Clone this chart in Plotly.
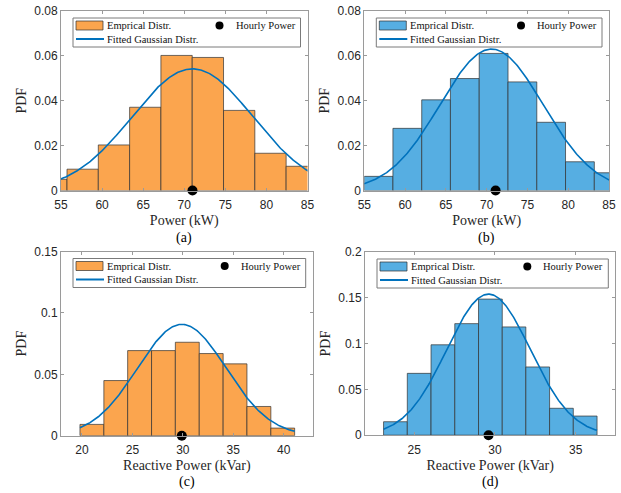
import numpy as np
import plotly.graph_objects as go

W, H = 621, 493

# ---------------- data ----------------
# (a) active power, orange
edges_a = [51.92, 55.73, 59.54, 63.35, 67.16, 70.97, 74.78, 78.59, 82.40, 86.21]
pdf_a = [0.0050, 0.0095, 0.0203, 0.0371, 0.0602, 0.0593, 0.0357, 0.0166, 0.0108]
mu_a, sigma_a = 71.0, 7.36
hourly_a = 71.0

# (b) active power, blue
edges_b = [54.98, 58.51, 62.04, 65.56, 69.09, 72.62, 76.15, 79.67, 83.20, 86.73]
pdf_b = [0.0063, 0.0277, 0.0404, 0.0499, 0.0611, 0.0484, 0.0304, 0.0128, 0.0079]
mu_b, sigma_b = 70.6, 6.33
hourly_b = 71.1

# (c) reactive power, orange
edges_c = [19.80, 22.17, 24.53, 26.90, 29.26, 31.63, 34.00, 36.36, 38.73, 41.09]
pdf_c = [0.0092, 0.0449, 0.0693, 0.0693, 0.0761, 0.0669, 0.0585, 0.0238, 0.0062]
mu_c, sigma_c = 29.9, 4.40
hourly_c = 29.9

# (d) reactive power, blue
edges_d = [23.10, 24.57, 26.04, 27.51, 28.98, 30.45, 31.91, 33.38, 34.85, 36.32]
pdf_d = [0.0147, 0.0675, 0.0987, 0.1218, 0.1486, 0.1182, 0.0745, 0.0294, 0.0209]
mu_d, sigma_d = 29.6, 2.59
hourly_d = 29.6

xticks_ab = [55, 60, 65, 70, 75, 80, 85]
yticks_ab = [0, 0.02, 0.04, 0.06, 0.08]
ylabels_ab = ["0", "0.02", "0.04", "0.06", "0.08"]
xticks_c = [20, 25, 30, 35, 40]
yticks_c = [0, 0.05, 0.1, 0.15]
ylabels_c = ["0", "0.05", "0.1", "0.15"]
xticks_d = [25, 30, 35]
yticks_d = [0, 0.05, 0.1, 0.15, 0.2]
ylabels_d = ["0", "0.05", "0.1", "0.15", "0.2"]

legend_labels = ["Emprical Distr.", "Hourly Power", "Fitted Gaussian Distr."]
panel_tags = ["(a)", "(b)", "(c)", "(d)"]

# ---------------- styling ----------------
ORANGE = "#FBA54E"
BLUE = "#56AEE2"
CURVE = "#0072BD"
AXC = "#9a9a9a"
TXT = "#262626"
SANS = "Liberation Sans, Arial, sans-serif"
SERIF = "Liberation Serif, Times New Roman, serif"

# panel boxes in pixels: left, top, right, bottom
boxes = [
    (61.0, 11.0, 307.5, 190.5),
    (364.3, 11.0, 609.0, 190.5),
    (61.0, 251.5, 312.7, 435.7),
    (365.0, 252.0, 615.3, 435.2),
]

panels = [
    dict(edges=edges_a, pdf=pdf_a, mu=mu_a, sig=sigma_a, hp=hourly_a, color=ORANGE,
         xr=[55, 85], yr=[0, 0.08], xt=xticks_ab, yt=yticks_ab, yl=ylabels_ab,
         xtitle="Power (kW)"),
    dict(edges=edges_b, pdf=pdf_b, mu=mu_b, sig=sigma_b, hp=hourly_b, color=BLUE,
         xr=[55, 85], yr=[0, 0.08], xt=xticks_ab, yt=yticks_ab, yl=ylabels_ab,
         xtitle="Power (kW)"),
    dict(edges=edges_c, pdf=pdf_c, mu=mu_c, sig=sigma_c, hp=hourly_c, color=ORANGE,
         xr=[17.92, 42.88], yr=[0, 0.15], xt=xticks_c, yt=yticks_c, yl=ylabels_c,
         xtitle="Reactive Power (kVar)"),
    dict(edges=edges_d, pdf=pdf_d, mu=mu_d, sig=sigma_d, hp=hourly_d, color=BLUE,
         xr=[21.95, 37.45], yr=[0, 0.2], xt=xticks_d, yt=yticks_d, yl=ylabels_d,
         xtitle="Reactive Power (kVar)"),
]


def px(x):
    return x / W


def py(y):
    return 1 - y / H


fig = go.Figure()
shapes = []
annotations = []
layout_axes = {}

for i, (p, box) in enumerate(zip(panels, boxes)):
    n = i + 1
    xs = "x" if n == 1 else f"x{n}"
    ys = "y" if n == 1 else f"y{n}"
    L, T, R, B = box
    edges = np.array(p["edges"])
    centers = (edges[:-1] + edges[1:]) / 2
    widths = np.diff(edges)

    fig.add_trace(go.Bar(
        x=centers, y=p["pdf"], width=widths, xaxis=xs, yaxis=ys,
        marker=dict(color=p["color"], line=dict(color="rgba(50,50,50,0.7)", width=1)),
        name=legend_labels[0], showlegend=False, hoverinfo="x+y"))

    xc = np.linspace(edges[0], edges[-1], 300)
    yc = np.exp(-0.5 * ((xc - p["mu"]) / p["sig"]) ** 2) / (p["sig"] * np.sqrt(2 * np.pi))
    fig.add_trace(go.Scatter(
        x=xc, y=yc, mode="lines", xaxis=xs, yaxis=ys,
        line=dict(color=CURVE, width=1.6), name=legend_labels[2], showlegend=False))

    fig.add_trace(go.Scatter(
        x=[p["hp"]], y=[0], mode="markers", xaxis=xs, yaxis=ys, cliponaxis=False,
        marker=dict(color="black", size=10), name=legend_labels[1], showlegend=False))

    xkey = "xaxis" if n == 1 else f"xaxis{n}"
    ykey = "yaxis" if n == 1 else f"yaxis{n}"
    common = dict(ticks="inside", ticklen=3, tickcolor=AXC, showline=True, linecolor=AXC,
                  linewidth=1, mirror="ticks", showgrid=False, zeroline=False,
                  automargin=False,
                  tickfont=dict(family=SANS, size=12, color=TXT))
    layout_axes[xkey] = dict(
        domain=[px(L), px(R)], anchor=ys, range=p["xr"], tickvals=p["xt"],
        ticklabelstandoff=3,
        title=dict(text=p["xtitle"], font=dict(family=SERIF, size=14, color=TXT), standoff=4),
        **common)
    layout_axes[ykey] = dict(
        domain=[py(B), py(T)], anchor=xs, range=p["yr"], tickvals=p["yt"], ticktext=p["yl"],
        title=dict(text="PDF", font=dict(family=SERIF, size=14, color=TXT), standoff=4),
        **common)

    # panel tag
    annotations.append(dict(text=panel_tags[i], x=px((L + R) / 2), y=py(B + 47 if n <= 2 else B + 46.5),
                            xref="paper", yref="paper", showarrow=False,
                            font=dict(family=SERIF, size=14, color="black"),
                            xanchor="center", yanchor="middle"))

    # legend box
    shapes.append(dict(type="rect", xref="paper", yref="paper",
                       x0=px(L + 12), x1=px(R - 7), y0=py(T + 36), y1=py(T + 7),
                       line=dict(color="#7a7a7a", width=1), fillcolor="white"))
    shapes.append(dict(type="rect", xref="paper", yref="paper",
                       x0=px(L + 15), x1=px(L + 42), y0=py(T + 19), y1=py(T + 10),
                       line=dict(color="rgba(50,50,50,0.7)", width=1), fillcolor=p["color"]))
    shapes.append(dict(type="line", xref="paper", yref="paper",
                       x0=px(L + 15), x1=px(L + 43), y0=py(T + 28), y1=py(T + 28),
                       line=dict(color=CURVE, width=2)))
    shapes.append(dict(type="circle", xref="paper", yref="paper",
                       x0=px(R - 92), x1=px(R - 84), y0=py(T + 18.5), y1=py(T + 10.5),
                       line=dict(color="black", width=0), fillcolor="black"))
    annotations.append(dict(text=legend_labels[0], x=px(L + 44), y=py(T + 14.5),
                            xref="paper", yref="paper", showarrow=False, xanchor="left",
                            yanchor="middle", font=dict(family=SERIF, size=10.5, color="#111")))
    annotations.append(dict(text=legend_labels[2], x=px(L + 44), y=py(T + 28),
                            xref="paper", yref="paper", showarrow=False, xanchor="left",
                            yanchor="middle", font=dict(family=SERIF, size=10.5, color="#111")))
    annotations.append(dict(text=legend_labels[1], x=px(R - 10), y=py(T + 14.5),
                            xref="paper", yref="paper", showarrow=False, xanchor="right",
                            yanchor="middle", font=dict(family=SERIF, size=10.5, color="#111")))

fig.update_layout(
    width=W, height=H,
    margin=dict(l=0, r=0, t=0, b=0, pad=0, autoexpand=False),
    paper_bgcolor="white", plot_bgcolor="white",
    showlegend=False,
    shapes=shapes, annotations=annotations,
    **layout_axes,
)

fig.write_html(
    "out.html",
    config={"displayModeBar": False},
    post_script="document.body.style.margin='0';document.body.style.overflow='hidden';",
)
